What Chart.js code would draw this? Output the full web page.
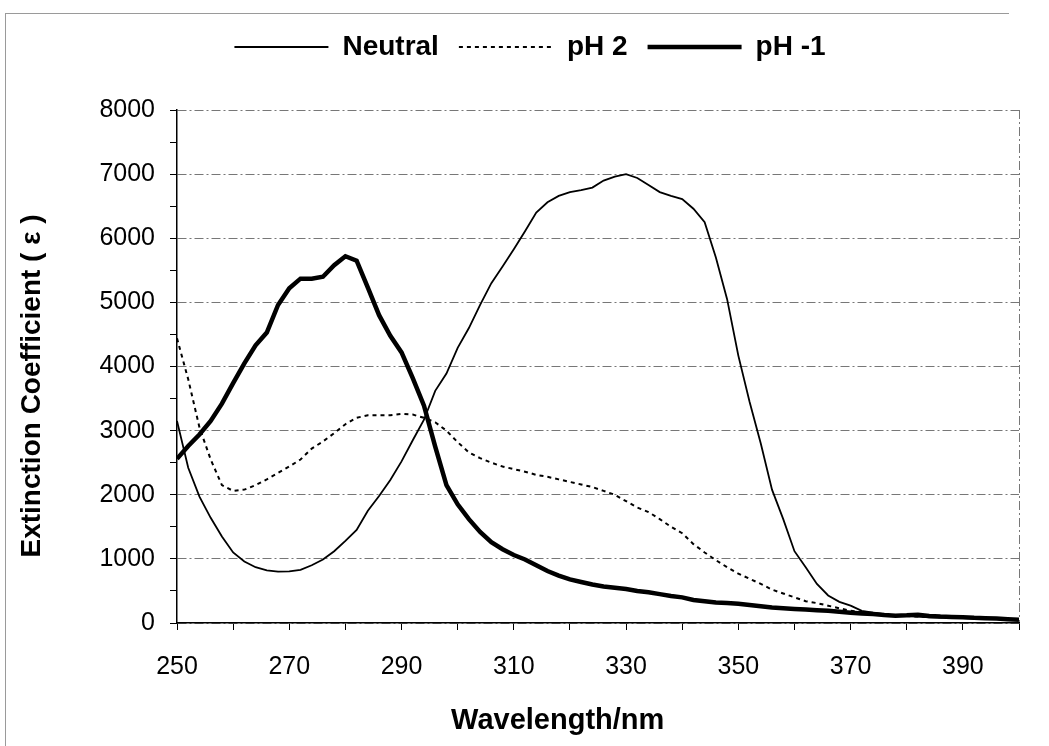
<!DOCTYPE html>
<html>
<head>
<meta charset="utf-8">
<script src="https://cdn.jsdelivr.net/npm/chart.js@4"></script>
<style>
  html, body { margin: 0; padding: 0; background: #fff; }
  #wrap { position: relative; width: 1049px; height: 746px; }
  #frame { position: absolute; left: 5px; top: 13px; right: 40px; bottom: -2px;
           border-top: 1px solid #9a9a9a; border-left: 1px solid #9a9a9a; pointer-events: none; }
</style>
</head>
<body>
<div id="wrap">
  <div id="frame"></div>
  <canvas id="c" width="1049" height="746"></canvas>
</div>
<script>
// Wavelength grid (nm)
const wavelengths = [250,252,254,256,258,260,262,264,266,268,270,272,274,276,278,280,282,284,286,288,290,292,294,296,298,300,302,304,306,308,310,312,314,316,318,320,322,324,326,328,330,332,334,336,338,340,342,344,346,348,350,352,354,356,358,360,362,364,366,368,370,372,374,376,378,380,382,384,386,388,390,392,394,396,398,400];

// Extinction coefficient, neutral solution
const neutral = [3150,2420,1970,1640,1350,1100,960,870,820,800,805,830,900,990,1120,1280,1450,1750,1980,2230,2520,2850,3170,3620,3890,4290,4600,4960,5300,5560,5830,6110,6400,6560,6660,6720,6750,6790,6900,6960,7000,6940,6830,6720,6660,6610,6460,6250,5700,5050,4170,3450,2800,2080,1620,1120,870,610,430,330,270,190,160,140,120,110,100,90,85,80,75,70,65,60,55,50];

// Extinction coefficient, pH 2
const ph2 = [4440,3800,3050,2550,2150,2060,2080,2150,2240,2340,2440,2550,2720,2830,2960,3100,3200,3240,3240,3240,3260,3250,3200,3130,3000,2820,2660,2570,2500,2440,2400,2360,2310,2280,2240,2200,2160,2120,2060,2000,1900,1800,1730,1620,1500,1400,1230,1100,980,870,770,690,610,520,460,400,340,310,270,230,190,170,150,130,120,110,100,95,90,85,80,75,70,65,60,55];

// Extinction coefficient, pH -1
const phMinus1 = [2560,2760,2940,3150,3420,3740,4050,4330,4530,4960,5220,5370,5370,5400,5580,5720,5650,5230,4800,4480,4220,3820,3390,2750,2150,1850,1620,1420,1260,1150,1060,990,900,810,740,680,640,600,570,550,530,500,480,450,420,400,360,340,320,310,300,280,260,240,230,220,210,200,190,175,160,150,140,125,115,120,130,110,100,95,90,80,75,70,60,50];

const seriesLabels = ['Neutral', 'pH 2', 'pH -1'];
const xTickLabels = [250, 270, 290, 310, 330, 350, 370, 390];
const yTickLabels = [0, 1000, 2000, 3000, 4000, 5000, 6000, 7000, 8000];

const toPoints = arr => wavelengths.map((x, i) => ({ x: x, y: arr[i] }));
const FONT = "'Liberation Sans', Arial, Helvetica, sans-serif";
const GRID_DASH = [9, 3, 2, 3];
const NB = '\u00a0';

new Chart(document.getElementById('c'), {
  type: 'line',
  data: {
    datasets: [
      { label: seriesLabels[0], data: toPoints(neutral), borderColor: '#000', backgroundColor: '#000',
        borderWidth: 1.8, pointRadius: 0, tension: 0 },
      { label: seriesLabels[1], data: toPoints(ph2), borderColor: '#000', backgroundColor: '#000',
        borderWidth: 2, borderDash: [4, 4], pointRadius: 0, tension: 0 },
      { label: seriesLabels[2], data: toPoints(phMinus1), borderColor: '#000', backgroundColor: '#000',
        borderWidth: 4.5, pointRadius: 0, tension: 0 }
    ]
  },
  options: {
    responsive: false,
    animation: false,
    events: [],
    layout: { padding: { top: 13, left: 41, right: 30, bottom: 0 } },
    plugins: {
      tooltip: { enabled: false },
      legend: {
        position: 'top',
        labels: {
          boxWidth: 94, boxHeight: 0, padding: 20, color: '#000',
          font: { family: FONT, size: 28, weight: 'bold' }
        }
      },
      title: {
        display: true, text: '', weight: 500,
        font: { size: 10 }, padding: { top: 27, bottom: 0 }
      }
    },
    scales: {
      x: {
        type: 'linear', min: 250, max: 400,
        afterFit: s => { s.height = 123; },
        ticks: {
          stepSize: 10, autoSkip: false, maxRotation: 0, padding: 22, color: '#000',
          font: { family: FONT, size: 25 },
          callback: v => xTickLabels.includes(v) ? String(v) : ''
        },
        grid: {
          drawOnChartArea: true, tickLength: 7, tickColor: '#000', lineWidth: 1,
          color: c => (c.tick && c.tick.value === 400) ? '#777' : 'rgba(0,0,0,0)'
        },
        border: { display: true, color: '#000', width: 1.5, dash: GRID_DASH },
        title: {
          display: true, text: 'Wavelength/nm' + NB.repeat(10), color: '#000',
          font: { family: FONT, size: 29, weight: 'bold' }, padding: { top: 0, bottom: 8 }
        }
      },
      y: {
        min: 0, max: 8000,
        afterFit: s => { s.width = 136; },
        ticks: {
          stepSize: 500, autoSkip: false, padding: 15, color: '#000',
          font: { family: FONT, size: 25 },
          callback: v => yTickLabels.includes(v) ? String(v) : ''
        },
        grid: {
          tickLength: 7, tickColor: '#000', lineWidth: 1,
          color: c => (c.tick && c.tick.value % 1000 === 0) ? '#777' : 'rgba(0,0,0,0)'
        },
        border: { display: true, color: '#000', width: 1.5, dash: GRID_DASH },
        title: {
          display: true, text: 'Extinction Coefficient ( ε )' + NB.repeat(5), color: '#000',
          font: { family: FONT, size: 28, weight: 'bold' }, padding: { top: -26, bottom: 0 }
        }
      }
    }
  }
});
</script>
</body>
</html>
